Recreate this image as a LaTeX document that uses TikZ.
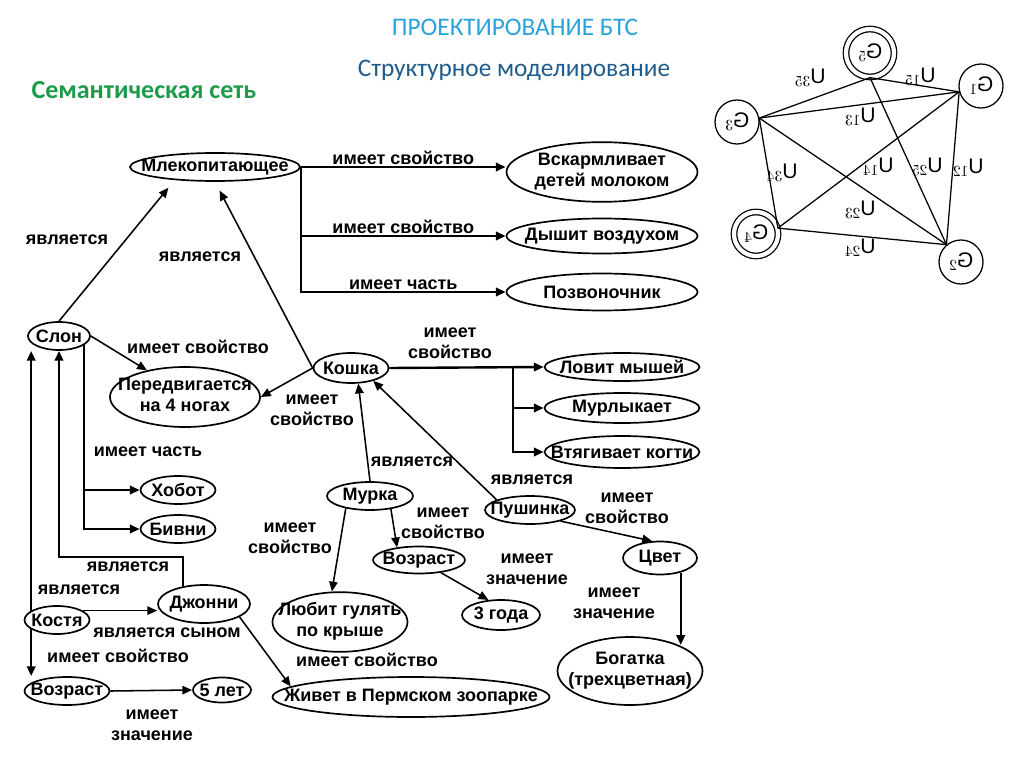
\documentclass[tikz,border=0pt]{standalone}
\usepackage{fontspec}
\setmainfont{Liberation Sans}
\newfontfamily\calfont{Carlito}
\usepackage{graphicx}
\usetikzlibrary{arrows.meta,positioning,shapes.geometric}

\definecolor{ttlblue}{HTML}{2AA2DA}
\definecolor{subblue}{HTML}{1F5C8C}
\definecolor{semgreen}{HTML}{1E9B4A}

\newcommand{\lbl}{\fontsize{12.8}{15}\selectfont\bfseries}
\newcommand{\onel}[1]{\makebox[0pt]{#1}}
\newcommand{\twol}[2]{\makebox[0pt]{\begin{tabular}{@{}c@{}}#1\\#2\end{tabular}}}

\begin{document}
\begin{tikzpicture}[x=0.025cm, y=-0.025cm,
  ell/.style={draw, ellipse, line width=1.2pt, inner sep=0pt, font=\lbl},
  sz/.style 2 args={minimum width=#1*0.025cm, minimum height=#2*0.025cm},
  lab/.style={font=\lbl, align=center, inner sep=1pt},
  arr/.style={-{Triangle[length=7pt,width=6pt]}, line width=1.1pt},
  trk/.style={arr, line width=1.7pt},
  gv/.style={circle, draw, line width=0.9pt, inner sep=0pt, font=\fontsize{15}{17}\selectfont},
  ge/.style={line width=0.9pt},
  gl/.style={font=\fontsize{15}{17}\selectfont, inner sep=0pt}
]
  \useasboundingbox (0,0) rectangle (1024,767);
  % titles
  \node[font=\calfont\fontsize{18}{20}\selectfont, text=ttlblue] (ttl) at (515,27) {ПРОЕКТИРОВАНИЕ БТС};
  \node[font=\calfont\fontsize{18}{20}\selectfont, text=subblue] (sub) at (514,70) {Структурное моделирование};
  \node[font=\calfont\bfseries\fontsize{18.5}{20}\selectfont, text=semgreen] (sem) at (144,90) {Семантическая сеть};

  % semantic network
  \node[ell, sz={170}{28}] (mlek) at (215,167) {\onel{Млекопитающее}};
  \node[ell, sz={191}{59}] (vskarm) at (602,172) {\twol{Вскармливает}{детей молоком}};
  \node[ell, sz={191}{35}] (dysh) at (602,236) {\onel{Дышит воздухом}};
  \node[ell, sz={191}{37}] (pozv) at (602,292) {\onel{Позвоночник}};
  \node[ell, sz={75}{30}] (koshka) at (351,368) {\onel{Кошка}};
  \node[ell, sz={155}{28}] (lov) at (622,367) {\onel{Ловит мышей}};
  \node[ell, sz={155}{30}] (murl) at (622,408) {\onel{Мурлыкает}};
  \node[ell, sz={155}{32}] (vtyag) at (622,452) {\onel{Втягивает когти}};
  \node[ell, sz={62}{28}] (slon) at (59,336) {\onel{Слон}};
  \node[ell, sz={150}{60}] (pered) at (185,397) {\twol{Передвигается}{на 4 ногах}};
  \node[ell, sz={75}{28}] (hobot) at (178,490) {\onel{Хобот}};
  \node[ell, sz={75}{28}] (bivni) at (178,529) {\onel{Бивни}};
  \node[ell, sz={65}{28}] (kostya) at (57,620) {\onel{Костя}};
  \node[ell, sz={92}{38}] (jonny) at (204,604) {\onel{Джонни}};
  \node[ell, sz={85}{28}] (vozr1) at (67,691) {\onel{Возраст}};
  \node[ell, sz={58}{25}] (let5) at (222,690) {\onel{5 лет}};
  \node[ell, sz={86}{28}] (murka) at (370,496) {\onel{Мурка}};
  \node[ell, sz={90}{28}] (push) at (530,510) {\onel{Пушинка}};
  \node[ell, sz={135}{57}] (lyub) at (340,622) {\twol{Любит гулять}{по крыше}};
  \node[ell, sz={92}{27}] (vozr2) at (419,560) {\onel{Возраст}};
  \node[ell, sz={78}{30}] (goda) at (501,615) {\onel{3 года}};
  \node[ell, sz={277}{40}] (zhiv) at (411,697) {\onel{Живет в Пермском зоопарке}};
  \node[ell, sz={74}{33}] (cvet) at (660,558) {\onel{Цвет}};
  \node[ell, sz={145}{68}] (bog) at (630,671) {\twol{Богатка}{(трехцветная)}};

  \draw[trk] (mlek.east) -- node[lab, above] (l1) {имеет свойство} (mlek.east -| vskarm.west);
  \draw[trk] (mlek.east) |- node[lab, pos=0.75, above] (l2) {имеет свойство} (dysh.west);
  \draw[trk] (mlek.east) |- node[lab, pos=0.75, above] (l3) {имеет часть} (pozv.west);
  \coordinate (kt) at (513,368);
  \draw[trk] (koshka.east) -- (lov.west);
  \draw[trk] (kt) |- (murl.west);
  \draw[trk] (kt) |- (vtyag.west);
  \node[lab] (l7) at (450,343) {имеет\\свойство};

  \draw[arr, shorten >=7pt] (slon.north) -- (mlek.198);
  \draw[arr, shorten >=7pt] (koshka.west) -- (mlek.south);
  \draw[arr] (slon.east) -- (pered.145);
  \draw[arr] (koshka.west) -- (pered.east);
  \draw[trk] (slon.340) |- (hobot.west);
  \draw[trk] (slon.340) |- (bivni.west);
  \draw[trk] (jonny.140) -- ++(0,-29) -| (slon.south);
  \draw[trk] (kostya.160) -- (kostya.160 |- slon.south);
  \draw[trk] (kostya.200) -- (kostya.200 |- vozr1.north);
  \draw[arr] (kostya.20) -- (kostya.20 -| jonny.west);
  \draw[arr] (vozr1.east) -- (let5.west);
  \draw[arr] (jonny.340) -- (zhiv.175);
  \draw[arr] (murka.north) -- (koshka.295);
  \draw[arr] (push.163) -- (koshka.330);
  \draw[arr] (murka.207) -- (lyub.105);
  \draw[arr] (murka.328) -- (vozr2.150);
  \draw[arr] (vozr2.330) -- (goda.130);
  \draw[arr] (push.340) -- (cvet.115);
  \draw[trk] (cvet.325) -- (cvet.325 |- bog.28);

  \node[lab] (l4) at (67,240) {является};
  \node[lab] (l5) at (200,257) {является};
  \node[lab] (l6) at (198,347) {имеет свойство};
  \node[lab] (l8) at (312,410) {имеет\\свойство};
  \node[lab] (l9) at (148,452) {имеет часть};
  \node[lab] (l10) at (412,462) {является};
  \node[lab] (l11) at (532,480) {является};
  \node[lab] (l12) at (290,538) {имеет\\свойство};
  \node[lab] (l13) at (443,523) {имеет\\свойство};
  \node[lab] (l14) at (527,569) {имеет\\значение};
  \node[lab] (l15) at (627,508) {имеет\\свойство};
  \node[lab] (l16) at (614,603) {имеет\\значение};
  \node[lab] (l17) at (128,567) {является};
  \node[lab] (l18) at (79,590) {является};
  \node[lab] (l19) at (167,633) {является сыном};
  \node[lab] (l20) at (118,656) {имеет свойство};
  \node[lab] (l21) at (367,660) {имеет свойство};
  \node[lab] (l22) at (152,725) {имеет\\значение};

  % graph of the system
  \node[gv, double, double distance=3pt, minimum size=1.2cm] (g5) at (870,53) {\reflectbox{$\mathrm{G}_5$}};
  \node[gv, minimum size=1.1cm] (g1) at (981,86) {\reflectbox{$\mathrm{G}_1$}};
  \node[gv, minimum size=1.1cm] (g3) at (737,122) {\reflectbox{$\mathrm{G}_3$}};
  \node[gv, double, double distance=3pt, minimum size=1.1cm] (g4) at (756,234) {\reflectbox{$\mathrm{G}_4$}};
  \node[gv, minimum size=1.1cm] (g2) at (961,262) {\reflectbox{$\mathrm{G}_2$}};
  \draw[ge] (g5.south) -- (g3.10);
  \draw[ge] (g5.south) -- (g1.195);
  \draw[ge] (g3.10) -- (g1.195);
  \draw[ge] (g5.south) -- (g2.130);
  \draw[ge] (g1.195) -- (g2.130);
  \draw[ge] (g1.195) -- (g4.15);
  \draw[ge] (g3.10) -- (g4.15);
  \draw[ge] (g3.10) -- (g2.130);
  \draw[ge] (g4.15) -- (g2.130);
  \node[gl] (u35) at (810,78) {\reflectbox{$\mathrm{U}_{35}$}};
  \node[gl] (u15) at (920,77) {\reflectbox{$\mathrm{U}_{15}$}};
  \node[gl] (u13) at (860,117) {\reflectbox{$\mathrm{U}_{13}$}};
  \node[gl] (u34) at (782,173) {\reflectbox{$\mathrm{U}_{34}$}};
  \node[gl] (u14) at (878,167) {\reflectbox{$\mathrm{U}_{14}$}};
  \node[gl] (u25) at (927,167) {\reflectbox{$\mathrm{U}_{25}$}};
  \node[gl] (u12) at (968,168) {\reflectbox{$\mathrm{U}_{12}$}};
  \node[gl] (u23) at (860,210) {\reflectbox{$\mathrm{U}_{23}$}};
  \node[gl] (u24) at (860,248) {\reflectbox{$\mathrm{U}_{24}$}};
\end{tikzpicture}
\end{document}
